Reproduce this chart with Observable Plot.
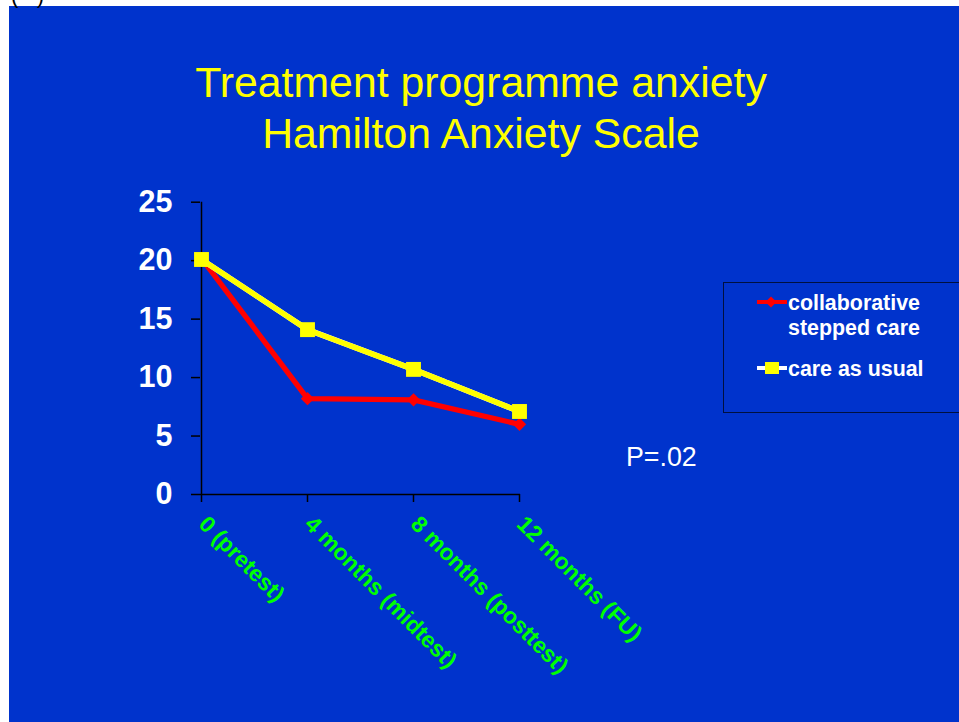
<!DOCTYPE html>
<html>
<head>
<meta charset="utf-8">
<script src="https://cdn.jsdelivr.net/npm/d3@7"></script>
<script src="https://cdn.jsdelivr.net/npm/@observablehq/plot@0.6"></script>
<style>
  html, body { margin: 0; padding: 0; background: #fff; }
  #slide { position: absolute; left: 0; top: 0; width: 959px; height: 722px; background: #0033CC; overflow: hidden;
           font-family: "Liberation Sans", Arial, sans-serif; }
  #slide svg { position: absolute; left: 0; top: 0; }
  .strip { position: absolute; background: #fff; z-index: 5; }
  #corner { position: absolute; left: 11px; top: -17px; font: 22px "Liberation Sans", Arial, sans-serif; color: #000; z-index: 6; white-space: pre; }
  #title { position: absolute; left: 0; top: 57.2px; width: 962px; text-align: center; color: #FFFF00;
           font-size: 42.8px; line-height: 50.6px; z-index: 2; }
  #legend { position: absolute; left: 723px; top: 281.5px; width: 250px; height: 129px; border: 1px solid #001040; z-index: 2; }
  .lrow { position: absolute; color: #fff; font-weight: bold; font-size: 21.4px; line-height: 25px; }
  .lsym { position: absolute; }
  #pval { position: absolute; left: 626px; top: 442px; color: #fff; font-size: 26.8px; line-height: 30px; z-index: 2; }
</style>
</head>
<body>
<div id="slide">
  <div class="strip" style="left:0;top:0;width:959px;height:6px;"></div>
  <div class="strip" style="left:0;top:0;width:9px;height:722px;"></div>
  <div id="corner">(   )</div>
  <div id="title"></div>
  <div id="legend"></div>
  <div id="pval"></div>
</div>
<script>
const titleLines = ["Treatment programme anxiety", "Hamilton Anxiety Scale"];
const timepoints = ["0 (pretest)", "4 months (midtest)", "8 months (posttest)", "12 months (FU)"];
const collaborative = [20.2, 8.2, 8.1, 6.0];
const careAsUsual = [20.1, 14.1, 10.7, 7.1];
const seriesNames = ["collaborative\nstepped care", "care as usual"];
const yTicks = [0, 5, 10, 15, 20, 25];
const pValueText = "P=.02";

const rows = timepoints.map((t, i) => ({t, collab: collaborative[i], usual: careAsUsual[i]}));

document.getElementById("title").innerHTML = titleLines.join("<br>");
document.getElementById("pval").textContent = pValueText;

const chart = Plot.plot({
  width: 959,
  height: 722,
  marginLeft: 200,
  marginRight: 439,
  marginTop: 201.7,
  marginBottom: 228,
  style: {background: "transparent", fontFamily: "Liberation Sans, Arial, sans-serif", overflow: "visible"},
  x: {type: "point", domain: timepoints, padding: 0, axis: null, label: null},
  y: {domain: [0, 25], axis: null, label: null},
  marks: [
    Plot.axisY({ticks: yTicks, tickSize: 9, tickPadding: 19, stroke: "#000", fill: "#fff", label: null,
                fontSize: 30.5, fontWeight: "bold", strokeWidth: 1.5}),
    Plot.axisX({tickSize: 8, tickFormat: () => "", label: null, stroke: "#000", strokeWidth: 1.5}),
    Plot.ruleX([timepoints[0]], {y1: 0, y2: 25, stroke: "#000", strokeWidth: 1.5}),
    Plot.ruleY([0], {stroke: "#000", strokeWidth: 1.5}),
    Plot.text(timepoints, {x: d => d, frameAnchor: "bottom", text: d => d, rotate: 45, textAnchor: "start",
                           dx: -4, dy: 31, fill: "#00FF00", fontSize: 22.8, fontWeight: "bold"}),
    Plot.line(rows, {x: "t", y: "collab", stroke: "#FF0000", strokeWidth: 5.3}),
    Plot.dot(rows, {x: "t", y: "collab", symbol: "diamond2", r: 6.0, fill: "#FF0000"}),
    Plot.line(rows, {x: "t", y: "usual", stroke: "#FFFFFF", strokeWidth: 5.5}),
    Plot.line(rows, {x: "t", y: "usual", stroke: "#FFFF00", strokeWidth: 5.5, strokeDasharray: "32,2.5"}),
    Plot.dot(rows, {x: "t", y: "usual", symbol: "square", r: 8.4, fill: "#FFFF00"})
  ]
});
document.getElementById("slide").appendChild(chart);

// legend
const legend = document.getElementById("legend");
const lx = 757 - 724, tx = 788 - 724;
function addRow(name, centerY, kind) {
  const top = centerY - 282.5;
  const sym = document.createElementNS("http://www.w3.org/2000/svg", "svg");
  sym.setAttribute("width", 32); sym.setAttribute("height", 16);
  sym.setAttribute("class", "lsym");
  sym.style.left = lx + "px"; sym.style.top = (top - 8 - 1) + "px";
  if (kind === "collab") {
    sym.innerHTML = '<line x1="0" y1="8" x2="30" y2="8" stroke="#FF0000" stroke-width="4"/>' +
                    '<path d="M14,2.5 L19.5,8 L14,13.5 L8.5,8 Z" fill="#FF0000"/>';
  } else {
    sym.innerHTML = '<line x1="0" y1="8" x2="30" y2="8" stroke="#FFFFFF" stroke-width="4"/>' +
                    '<rect x="8" y="2" width="14" height="12" fill="#FFFF00"/>';
  }
  legend.appendChild(sym);
  const div = document.createElement("div");
  div.className = "lrow";
  div.style.left = tx + "px";
  div.style.top = (top - 12.5) + "px";
  div.innerHTML = name.replace("\n", "<br>");
  legend.appendChild(div);
}
addRow(seriesNames[0], 303, "collab");
addRow(seriesNames[1], 369, "usual");
</script>
</body>
</html>
